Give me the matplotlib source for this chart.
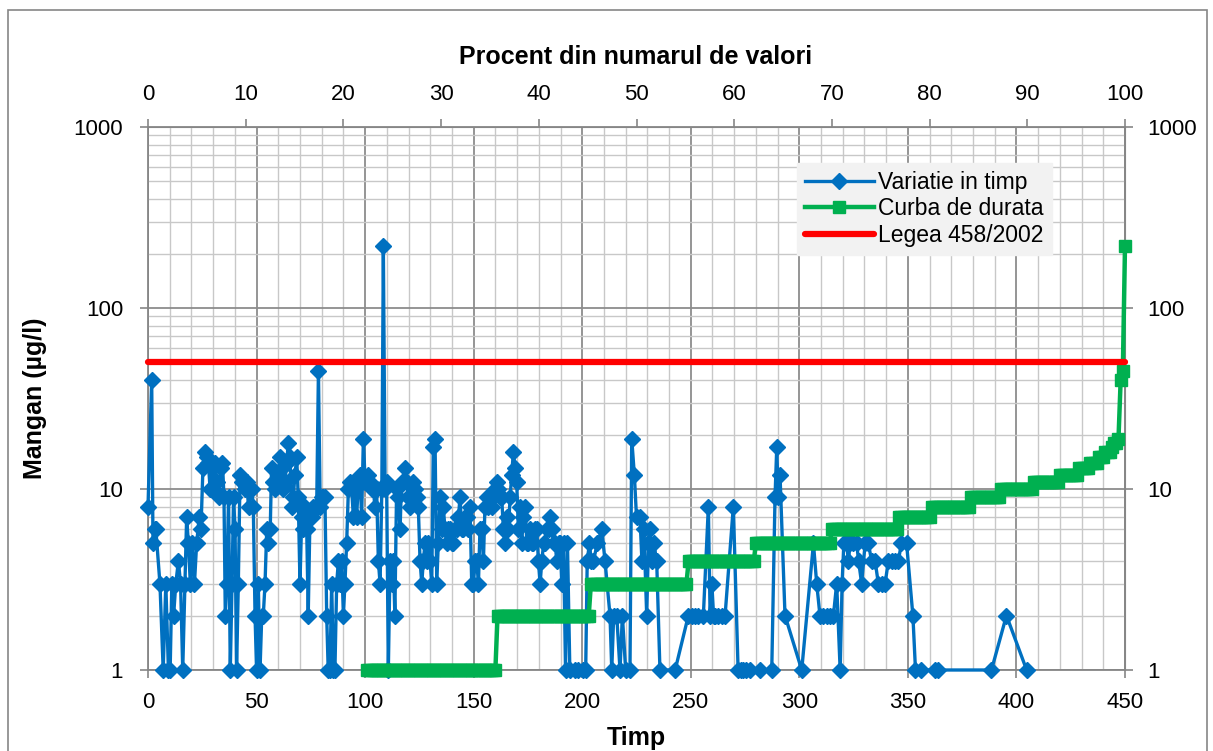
import numpy as np
import matplotlib
matplotlib.use("Agg")
import matplotlib.pyplot as plt
from matplotlib.ticker import FixedLocator, MultipleLocator, NullLocator, LogLocator, NullFormatter
from matplotlib.patches import Rectangle

plt.rcParams['font.family'] = ['Liberation Sans', 'DejaVu Sans']

# Variatie in timp
blue_x = [0, 1.7, 2.3, 3.0, 3.6, 5.5, 7, 8.2, 9.4, 10.2, 11, 11.8, 12.8, 14, 15, 16, 17, 17.8, 18.6, 19.5,
          20.4, 21.4, 22.4, 23.6, 24.4, 25.3, 26.2, 27, 27.8, 28.6, 29.4, 30.2, 31, 31.7, 32.5, 33.4, 34.3, 35,
          35.6, 36.3, 37.1, 37.9, 38.7, 39.4, 40.1, 40.8, 41.6, 42.4, 43.5, 44.6, 45.4, 46.3, 47.2, 47.8, 48.5,
          49.3, 50,
          50.8, 51.6, 52.4, 53.1, 53.9, 54.7, 55.5, 56.3, 56.9, 57.7, 58.6, 59.3, 60.1, 60.8, 61.6, 62.3, 63.1,
          63.9, 64.6, 65.4, 66.1, 66.9, 67.7, 68.5, 69.2, 70, 70.8, 71.5, 72.3, 73.1, 73.8, 74.6, 75.4, 76.1, 77,
          77.7, 78.5, 79.3, 80, 80.8, 81.5, 82.3, 83, 83.8, 84.6, 85.4, 86.1, 86.9, 87.7, 88.4, 89.2, 90, 90.7,
          91.5, 92.3, 93, 93.8, 94.6, 95.4, 96.1, 96.9, 97.6, 98.4, 99.2, 100,
          100.7, 101.5, 102.3, 103, 103.8, 104.5, 105.3, 106.1, 106.9, 107.7, 108.4, 109.2, 109.9, 110.7, 111.5,
          112.2, 113, 113.7, 114.5, 115.3, 116.1, 116.8, 117.6, 118.4, 119.1, 119.9, 120.7, 121.4, 122.2, 123,
          123.8, 124.5, 125.3, 126.1, 126.8, 127.6, 128.4, 129.1, 129.9, 130.7, 131.4, 132.2, 133, 133.7, 134.5,
          135.3, 136, 136.8, 137.6, 138.3, 139.1, 139.9, 140.7, 141.4, 142.2, 143, 143.7, 144.5, 145.3, 146,
          146.8, 147.6, 148.3, 149.1, 149.9,
          150.7, 151.4, 152.2, 152.9, 153.7, 154.5, 155.2, 156, 156.8, 157.6, 158.3, 159.1, 159.9, 160.6, 161.4,
          162.2, 162.9, 163.7, 164.5, 165.2, 166, 166.8, 167.5, 168.3, 169.1, 169.8, 170.6, 171.4, 172.1, 172.9,
          173.7, 174.5, 175.2, 176, 176.8, 177.5, 178.3, 179.1, 179.8, 180.6, 181.4, 182.2, 182.9, 183.7, 184.5,
          185.2, 186, 186.8, 187.5, 188.3, 189.1, 189.8, 190.6, 191.4, 192.3, 193.2, 194.3, 196.5, 198.2, 200.5,
          201.6, 202.3, 203.3, 204.2,
          205.1, 207, 209, 210.5, 212.8, 213.6, 214.5, 215.9, 217.4, 218.5, 220, 222, 222.8, 224, 225, 226.6,
          227.5, 228.4, 229.7, 230.5, 231.2, 232, 233, 234.3, 235.8, 242.8, 248.9,
          250.4, 252, 253.5, 255.8, 258.1, 258.9, 259.7, 260.5, 261.2, 262.7, 264.2, 265.8, 269.6, 271.8, 273,
          274.2, 275.5, 277.3, 281.9, 287.3, 288.8, 289.6, 290.3, 291.1, 293.4, 301.1,
          306.5, 308, 309.5, 311, 312.6, 314.1, 315.7, 317.2, 318.8, 319.7, 320.5, 321.8, 322.6, 323.4, 324.9,
          326.4, 327.3, 328.7, 330.3, 331.8, 333.3, 334.9, 336.4, 338, 339.5, 341, 342.5, 344, 345.6, 347,
          349.4, 352.3, 353.5, 356, 362.5, 364, 388.5, 395.4, 404.7]
blue_y = [8, 40, 5, 6, 6, 3, 1, 3, 1, 1, 3, 2, 3, 4, 3, 1, 3, 7, 5, 3,
          5, 3, 5, 7, 6, 13, 16, 15, 14, 10, 14, 10, 14, 11, 9, 13, 14, 9,
          2, 3, 9, 1, 3, 9, 6, 1, 3, 12, 11, 10, 11, 8, 10, 10, 8,
          2, 1,
          3, 1, 2, 2, 3, 6, 5, 6, 13, 11, 10, 11, 12, 15, 13, 10, 11,
          14, 18, 15, 8, 9, 12, 15, 9, 3, 7, 6, 8, 6, 2, 7, 7, 8, 8,
          8, 45, 8, 9, 9, 9, 2, 1, 1, 3, 1, 1, 3, 4, 3, 4, 2, 3,
          5, 10, 11, 10, 7, 10, 7, 11, 12, 7, 19, 11,
          11, 12, 11, 10, 10, 8, 10, 4, 3, 10, 220, 10, 11, 1, 4,
          3, 4, 2, 10, 9, 6, 11, 11, 13, 11, 9, 8, 9, 11, 10,
          9, 8, 4, 3, 4, 5, 4, 5, 4, 3, 17, 19, 3, 5, 9,
          6, 8, 6, 5, 6, 6, 5, 5, 6, 6, 7, 9, 6, 6, 7,
          7, 6, 8, 3, 3,
          4, 4, 3, 6, 6, 4, 8, 9, 8, 9, 8, 9, 10, 11, 10,
          9, 9, 6, 5, 7, 6, 9, 12, 16, 13, 11, 6, 8, 5, 7,
          8, 5, 5, 6, 5, 5, 6, 6, 4, 3, 4, 5, 5, 6, 6,
          7, 6, 5, 5, 4, 5, 5, 3, 5, 1, 5, 1, 1, 1, 1,
          1, 4, 5, 4,
          4, 5, 6, 4, 2, 1, 2, 2, 1, 2, 1, 1, 19, 12, 7, 7,
          4, 6, 2, 5, 6, 4, 5, 4, 1, 1, 2,
          2, 2, 2, 2, 8, 2, 3, 2, 2, 2, 2, 2, 8, 1, 1,
          1, 1, 1, 1, 1, 9, 17, 9, 12, 2, 1,
          5, 3, 2, 2, 2, 2, 2, 3, 1, 3, 5, 5, 4, 5, 5,
          5, 4, 3, 5, 5, 4, 4, 3, 3, 3, 4, 4, 4, 4, 5,
          5, 2, 1, 1, 1, 1, 1, 2, 1]

# Curba de durata: valori ordonate si numarul de valori pe fiecare nivel
green_levels = [1, 2, 3, 4, 5, 6, 7, 8, 9, 10, 11, 12, 13, 14, 15, 16, 17, 18, 19, 40, 45, 220]
green_counts = [60, 43, 45, 31, 35, 31, 15, 18, 14, 15, 12, 9, 5, 4, 3, 3, 1, 2, 1, 1, 1, 1]
green_first_rank = 101   # primele valori (<1) nu apar pe axa logaritmica
n_total = 450

# Legea 458/2002
legea_x = [0, 450]
legea_y = [50, 50]

green_x = np.arange(green_first_rank, green_first_rank + sum(green_counts))
green_y = np.repeat(green_levels, green_counts)

fig = plt.figure(figsize=(12.13, 7.51), dpi=100)
ax = fig.add_axes([148 / 1213, 1 - 670 / 751, 977 / 1213, 543 / 751])

ax.plot(blue_x, blue_y, color='#0070C0', lw=2.4, marker='D', ms=8, zorder=3, clip_on=False,
        label='Variatie in timp')
ax.plot(green_x, green_y, color='#00B050', lw=3.2, marker='s', ms=8.5, zorder=4, clip_on=False,
        label='Curba de durata')
ax.plot(legea_x, legea_y, color='#FF0000', lw=4.5, zorder=5, clip_on=False, label='Legea 458/2002',
        solid_capstyle='round')

ax.set_yscale('log')
ax.set_xlim(0, n_total)
ax.set_ylim(1, 1000)

ax.xaxis.set_major_locator(MultipleLocator(50))
ax.xaxis.set_minor_locator(MultipleLocator(10))
ax.yaxis.set_major_locator(FixedLocator([1, 10, 100, 1000]))
ax.yaxis.set_minor_locator(LogLocator(base=10, subs=range(2, 10)))
ax.yaxis.set_minor_formatter(NullFormatter())
ax.set_yticklabels(['1', '10', '100', '1000'])

ax.grid(which='major', color='#8C8C8C', lw=1.3, zorder=0)
ax.grid(which='minor', color='#C8C8C8', lw=1.0, zorder=0)
ax.set_axisbelow(True)

ax.tick_params(which='major', direction='out', length=6, width=1.2, color='#868686', labelsize=16)
ax.tick_params(axis='x', pad=10)
ax.tick_params(axis='y', pad=12)
ax.tick_params(which='minor', length=0)

for sp in ax.spines.values():
    sp.set_color('#868686')
    sp.set_linewidth(1.3)

# axa de sus: procent din numarul de valori
top = ax.secondary_xaxis('top', functions=(lambda x: x / n_total * 100, lambda p: p * n_total / 100))
top.set_xticks(range(0, 101, 10))
top.tick_params(direction='out', length=6, width=1.2, color='#868686', labelsize=16, pad=10)
top.xaxis.set_minor_locator(NullLocator())
top.spines['top'].set_color('#868686')

# axa din dreapta
right = ax.secondary_yaxis('right')
right.set_yticks([1, 10, 100, 1000])
right.set_yticklabels(['1', '10', '100', '1000'])
right.yaxis.set_minor_locator(NullLocator())
right.tick_params(direction='out', length=6, width=1.2, color='#868686', labelsize=16, pad=10)
right.spines['right'].set_color('#868686')

fig.text(636 / 1213, 1 - 57 / 751, 'Procent din numarul de valori', ha='center', va='center',
         fontsize=18, fontweight='bold')
fig.text(636 / 1213, 1 - 738 / 751, 'Timp', ha='center', va='center', fontsize=18, fontweight='bold')
fig.text(35 / 1213, 1 - 398 / 751, 'Mangan (µg/l)', ha='center', va='center', rotation=90,
         fontsize=18, fontweight='bold')

leg = ax.legend(loc='upper left', bbox_to_anchor=((797 - 148) / 977, (670 - 163) / 543),
                fontsize=16.5, frameon=True, fancybox=False, facecolor='#F2F2F2', edgecolor='#F2F2F2',
                framealpha=1, handlelength=3.0, handletextpad=0.2, borderpad=0.35, labelspacing=0.15,
                borderaxespad=0)
leg.set_zorder(10)

fig.add_artist(Rectangle((8 / 1213, -0.02), 1199 / 1213, 1 - 10 / 751 + 0.02, transform=fig.transFigure,
                         fill=False, edgecolor='#868686', lw=1.2))

fig.savefig('out.png', dpi=100)
